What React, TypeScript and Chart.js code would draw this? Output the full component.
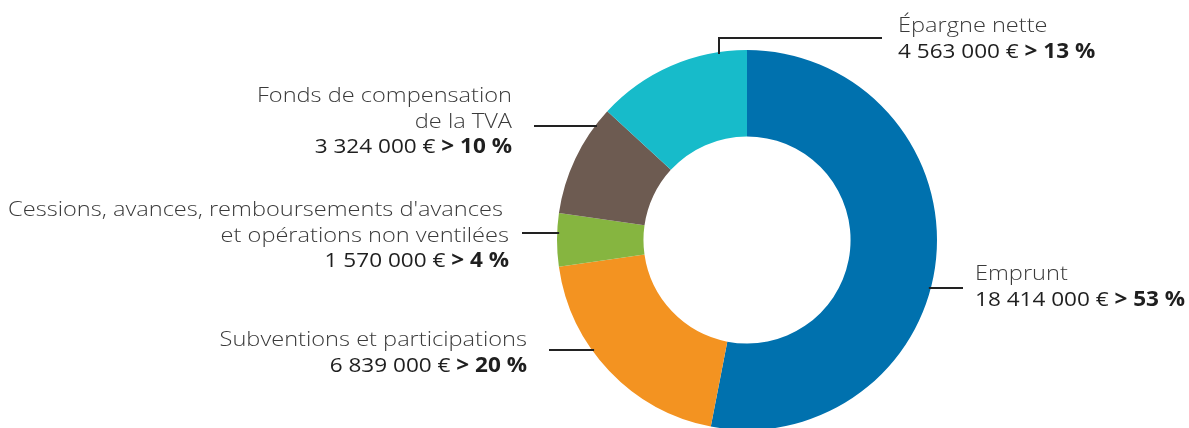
import React, { useEffect, useRef } from "react";
import { Chart, registerables } from "chart.js";

Chart.register(...registerables);

const categories = [
  "Emprunt",
  "Subventions et participations",
  "Cessions, avances, remboursements d'avances et opérations non ventilées",
  "Fonds de compensation de la TVA",
  "Épargne nette",
];
const nameLines = [
  ["Emprunt"],
  ["Subventions et participations"],
  ["Cessions, avances, remboursements d'avances ", "et opérations non ventilées"],
  ["Fonds de compensation", "de la TVA"],
  ["Épargne nette"],
];
const values = [18414000, 6839000, 1570000, 3324000, 4563000];
const percents = [53, 20, 4, 10, 13];
const colors = ["#0071AE", "#F39321", "#86B540", "#6D5B51", "#17BBCA"];

// label placement (layout only)
const labelLayout = [
  { align: "left", x: 975, y: 280, leaderY: 288, leaderEnd: 963 },
  { align: "right", x: 527, y: 346, leaderY: 350, leaderEnd: 549 },
  { align: "right", x: 509, y: 216, leaderY: 233, leaderEnd: 522 },
  { align: "right", x: 512, y: 102, leaderY: 126, leaderEnd: 534 },
  { align: "left", x: 898, y: 32, leaderY: 38, leaderEnd: 882, elbowX: 719 },
];

const FONT = "'Open Sans', sans-serif";
const SIZE = 20.5;
const LINE_H = 25.5;
const NAME_STRETCH = 1.15;
const VALUE_STRETCH = 1.1;

function fmtAmount(v: number) {
  return String(v).replace(/\B(?=(\d{3})+(?!\d))/g, " ") + " €";
}

const labelsPlugin = {
  id: "sideLabels",
  afterDraw(chart: any) {
    const ctx = chart.ctx as CanvasRenderingContext2D;
    const meta = chart.getDatasetMeta(0);
    const arc = meta.data[0] as any;
    const cx = arc.x;
    const cy = arc.y;
    const r = arc.outerRadius;
    ctx.save();
    ctx.textBaseline = "alphabetic";
    ctx.textAlign = "left";
    ctx.strokeStyle = "#222222";
    ctx.lineWidth = 2;
    labelLayout.forEach((lay, i) => {
      ctx.beginPath();
      if (lay.elbowX !== undefined) {
        const yArc = cy - Math.sqrt(r * r - (lay.elbowX - cx) * (lay.elbowX - cx));
        ctx.moveTo(lay.leaderEnd, lay.leaderY);
        ctx.lineTo(lay.elbowX, lay.leaderY);
        ctx.lineTo(lay.elbowX, yArc + 2);
      } else {
        const dx = Math.sqrt(r * r - (lay.leaderY - cy) * (lay.leaderY - cy));
        const xArc = lay.align === "left" ? cx + dx - 2 : cx - dx + 2;
        ctx.moveTo(lay.leaderEnd, lay.leaderY);
        ctx.lineTo(xArc, lay.leaderY);
      }
      ctx.stroke();

      const lines: { text: string; font: string; color: string; sx: number }[][] = nameLines[i].map((t) => [
        { text: t, font: `300 ${SIZE}px ${FONT}`, color: "#3a3a3a", sx: NAME_STRETCH },
      ]);
      lines.push([
        { text: fmtAmount(values[i]) + " ", font: `500 ${SIZE}px ${FONT}`, color: "#1f1f1f", sx: VALUE_STRETCH },
        { text: `> ${percents[i]} %`, font: `700 ${SIZE}px ${FONT}`, color: "#1f1f1f", sx: VALUE_STRETCH },
      ]);
      lines.forEach((segs, li) => {
        const y = lay.y + li * LINE_H;
        let total = 0;
        segs.forEach((s) => {
          ctx.font = s.font;
          total += ctx.measureText(s.text).width * s.sx;
        });
        let x = lay.align === "left" ? lay.x : lay.x - total;
        segs.forEach((s) => {
          ctx.font = s.font;
          ctx.fillStyle = s.color;
          const w = ctx.measureText(s.text).width * s.sx;
          ctx.save();
          ctx.translate(x, y);
          ctx.scale(s.sx, 1);
          ctx.fillText(s.text, 0, 0);
          ctx.restore();
          x += w;
        });
      });
    });
    ctx.restore();
  },
};

export default function App() {
  const ref = useRef<HTMLCanvasElement>(null);
  useEffect(() => {
    const chart = new Chart(ref.current!, {
      type: "doughnut",
      data: {
        labels: categories,
        datasets: [
          {
            data: values,
            backgroundColor: colors,
            borderWidth: 0,
          },
        ],
      },
      options: {
        responsive: false,
        animation: false,
        cutout: "54.5%",
        layout: { padding: { left: 557, right: 252, top: 50, bottom: 10 } },
        plugins: { legend: { display: false }, tooltip: { enabled: false } },
      },
      plugins: [labelsPlugin],
    });
    return () => chart.destroy();
  }, []);
  return (
    <div style={{ position: "absolute", left: 0, top: 0, width: 1189, height: 428, overflow: "hidden", background: "#fff" }}>
      <canvas ref={ref} width={1189} height={440} />
    </div>
  );
}
